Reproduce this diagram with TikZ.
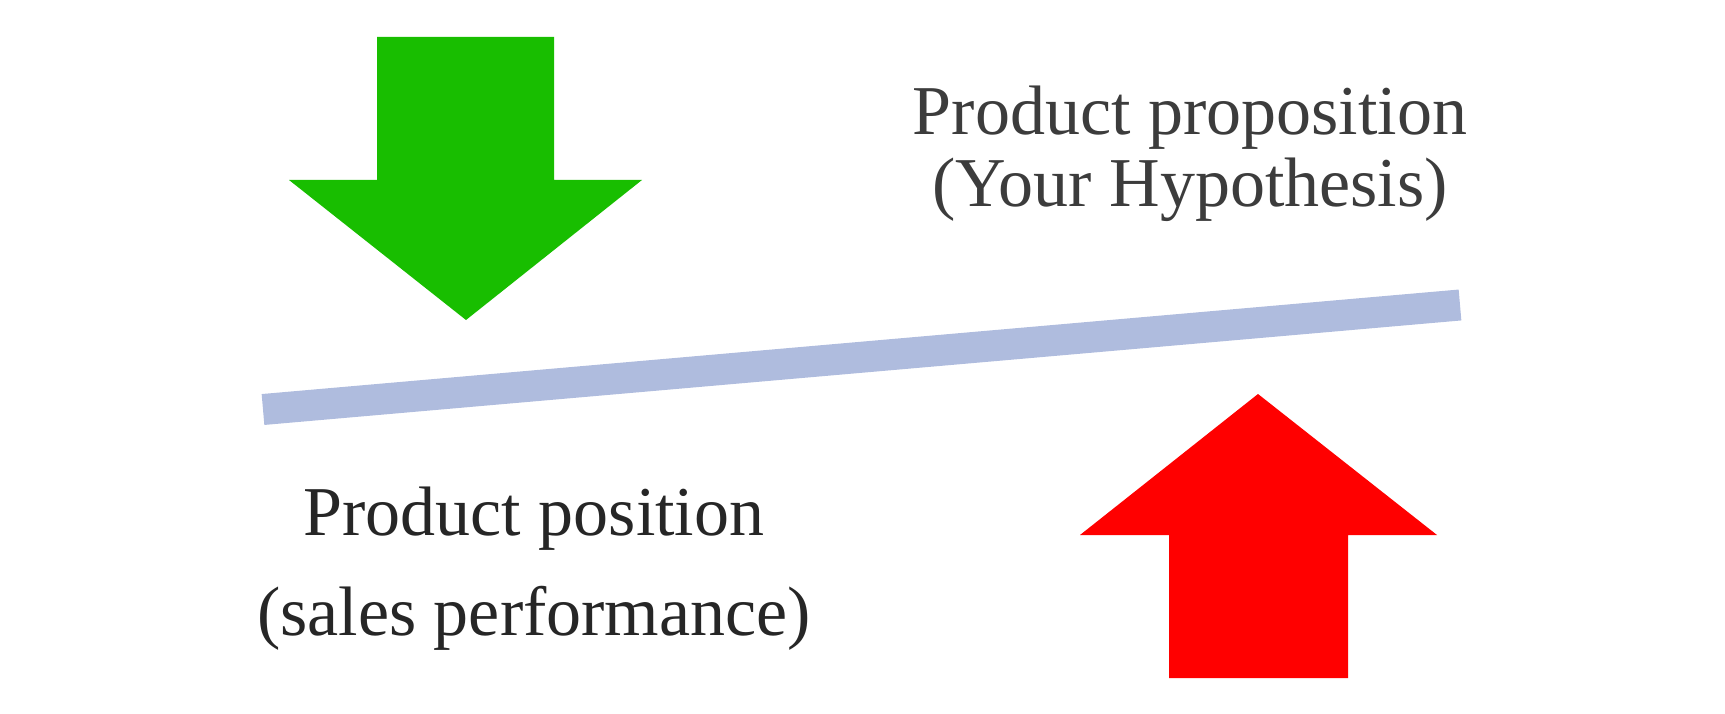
\documentclass[tikz,border=0pt]{standalone}
\usepackage{fontspec}
\setmainfont{Liberation Serif}
\usepackage{tikz}
\definecolor{pushgreen}{RGB}{24,190,0}
\definecolor{pullred}{RGB}{255,0,0}
\definecolor{beamblue}{RGB}{175,188,222}
\definecolor{inkgray}{RGB}{60,60,60}
\tikzstyle{push}=[fill=pushgreen]
\tikzstyle{pull}=[fill=pullred]
\tikzstyle{beam}=[draw=beamblue,line width=31pt,line cap=butt]
\tikzstyle{label}=[text=inkgray,anchor=base,inner sep=0pt,font=\fontsize{70}{84}\selectfont]

\begin{document}
\begin{tikzpicture}[x=1pt,y=-1pt]
            \useasboundingbox (0,0) rectangle (1725,714);

            % green arrow pushing down
            \fill[push] (377,37) -- (554,37) -- (554,180) -- (642,180)
                -- (466,320) -- (289,180) -- (377,180) -- cycle;

            % the balance beam
            \coordinate (beamL) at (263,409.5);
            \coordinate (beamR) at (1460,305);
            \draw[beam] (beamL) -- (beamR);

            % red arrow pushing up
            \fill[pull] (1169,678) -- (1348,678) -- (1348,535) -- (1437,535)
                -- (1258,394) -- (1080,535) -- (1169,535) -- cycle;

            \node[label] (prop)  at (1190,135) {Product proposition};
            \node[label] (hyp)   at (1190,207) {(Your Hypothesis)};

            \node[label,text=black!85] (pos)   at (534,535) {Product position};
            \node[label,text=black!85] (sales) at (534,635) {(sales performance)};

        \end{tikzpicture}
\end{document}
